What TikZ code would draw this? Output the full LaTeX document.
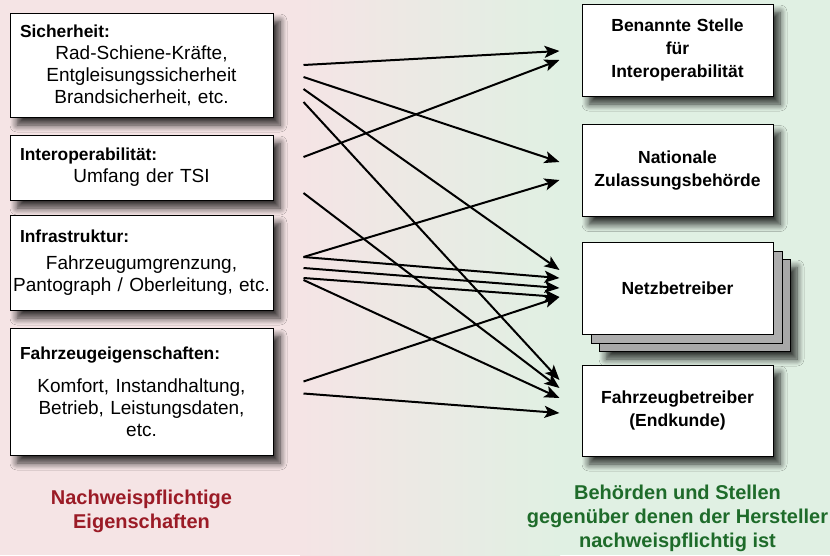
\documentclass[tikz,border=0pt]{standalone}
\usepackage{fontspec}
\setmainfont{Liberation Sans}
\usetikzlibrary{arrows.meta,shadows.blur}
\definecolor{bgred}{RGB}{245,228,229}
\definecolor{bggreen}{RGB}{224,240,227}
\definecolor{txtred}{RGB}{155,27,38}
\definecolor{txtgreen}{RGB}{30,107,42}
\tikzset{
  box/.style={draw, line width=1pt, fill=white, inner sep=0pt},
  shadowed/.style={blur shadow={shadow xshift=7pt, shadow yshift=-8pt, shadow blur radius=7pt, shadow blur steps=8, shadow opacity=80}},
  lbox/.style={box, shadowed, minimum width=263pt, minimum height=#1, text width=257pt, align=center, font=\fontsize{19}{22}\selectfont},
  rbox/.style={box, minimum width=191pt, minimum height=92pt, text width=185pt, align=center, font=\bfseries\fontsize{17.5}{23}\selectfont},
  arr/.style={-{Stealth[length=15pt,width=12pt,inset=3.5pt]}, line width=2pt},
  caption/.style={align=center, font=\bfseries\fontsize{20}{24}\selectfont}
}
\newcommand{\boxhead}[1]{\makebox[\linewidth][l]{\hspace{7pt}\fontsize{17.4}{22}\selectfont\textbf{#1}}}
\begin{document}
\begin{tikzpicture}[x=1pt,y=-1pt]
	\useasboundingbox (0,0) rectangle (830,555);
	% background
	\fill[bgred] (0,0) rectangle (300.5,555);
	\shade[left color=bgred, right color=bggreen] (300,0) rectangle (560,555);
	\fill[bggreen] (559.5,0) rectangle (830,555);
	% properties
	\node[lbox=104pt] (sicher) at (141.5,65) {\boxhead{Sicherheit:}\\
		Rad-Schiene-Kräfte,\\ Entgleisungssicherheit\\ Brandsicherheit, etc.};
	\node[lbox=65pt] (interop) at (141.5,167.5) {\boxhead{Interoperabilität:}\\
		Umfang der TSI};
	\node[lbox=95pt] (infra) at (141.5,262.5) {\boxhead{Infrastruktur:}\\[5pt]
		Fahrzeugumgrenzung,\\ Pantograph / Oberleitung, etc.};
	\node[lbox=127pt] (fzeig) at (141.5,391.5) {\boxhead{Fahrzeugeigenschaften:}\\[11pt]
		Komfort, Instandhaltung,\\ Betrieb, Leistungsdaten,\\ etc.};
	% authorities
	\node[rbox, shadowed] (bst) at (677.5,50) {Benannte Stelle\\ für\\ Interoperabilität};
	\node[rbox, shadowed] (nza) at (677.5,170.5) {Nationale\\ Zulassungsbehörde};
	\node[rbox, shadowed, fill=gray!68] (netz3) at (694.5,305) {};
	\node[rbox, fill=gray!64] (netz2) at (686.5,297) {};
	\node[rbox] (netz) at (677.5,288) {Netzbetreiber};
	\node[rbox, shadowed, minimum height=91pt] (fzb) at (677.5,410.5) {Fahrzeugbetreiber\\ (Endkunde)};
	% connections
	\foreach \a/\da/\b/\db in {sicher/0/bst/-1, sicher/-12/nza/8.5, sicher/-24/netz/18, sicher/-37/fzb/30.5,
		interop/10.5/bst/-10, interop/-25.5/fzb/22.5,
		infra/5.5/nza/-9.5, infra/5.5/netz/10, infra/-5.5/netz/0, infra/-15.5/netz/-9, infra/-17.5/fzb/12.5,
		fzeig/10/netz/-9, fzeig/-2/fzb/-2.5}
		\draw[arr] ([xshift=30pt,yshift=\da pt]\a.east) -- ([xshift=-22pt,yshift=\db pt]\b.west);
	% captions
	\node[caption, text=txtred] (lcap) at (141.5,511) {Nachweispflichtige\\ Eigenschaften};
	\node[caption, text=txtgreen] (rcap) at (677.5,518) {Behörden und Stellen\\ gegenüber denen der Hersteller\\ nachweispflichtig ist};
\end{tikzpicture}
\end{document}
